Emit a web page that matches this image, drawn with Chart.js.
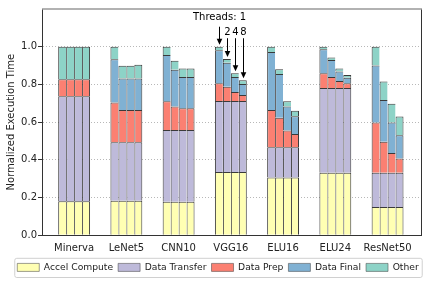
<!DOCTYPE html>
<html>
<head>
<meta charset="utf-8">
<script src="https://cdn.jsdelivr.net/npm/chart.js@4.4.0/dist/chart.umd.min.js"></script>
<style>
  html, body { margin: 0; padding: 0; background: #fff; }
</style>
</head>
<body>
<canvas id="chart" width="436" height="282"></canvas>
<script>
// Groups on the x axis and thread counts (one bar per thread count)
const models = ['Minerva', 'LeNet5', 'CNN10', 'VGG16', 'ELU16', 'ELU24', 'ResNet50'];
const threads = ['1', '2', '4', '8'];

// Segment sizes, per model, per thread count (1, 2, 4, 8)
const accelCompute = [
  [0.180, 0.180, 0.180, 0.180],
  [0.183, 0.183, 0.183, 0.183],
  [0.178, 0.178, 0.178, 0.178],
  [0.335, 0.335, 0.335, 0.335],
  [0.307, 0.307, 0.307, 0.307],
  [0.332, 0.332, 0.332, 0.332],
  [0.150, 0.150, 0.150, 0.150]
];
const dataTransfer = [
  [0.557, 0.557, 0.557, 0.557],
  [0.311, 0.311, 0.311, 0.311],
  [0.381, 0.381, 0.381, 0.381],
  [0.377, 0.377, 0.377, 0.377],
  [0.160, 0.160, 0.160, 0.160],
  [0.449, 0.449, 0.449, 0.449],
  [0.182, 0.182, 0.182, 0.182]
];
const dataPrep = [
  [0.090, 0.090, 0.090, 0.090],
  [0.210, 0.171, 0.171, 0.171],
  [0.152, 0.124, 0.115, 0.115],
  [0.094, 0.076, 0.048, 0.032],
  [0.198, 0.156, 0.089, 0.070],
  [0.078, 0.059, 0.037, 0.025],
  [0.266, 0.164, 0.105, 0.075]
];
const dataFinal = [
  [0.000, 0.000, 0.000, 0.000],
  [0.229, 0.167, 0.167, 0.167],
  [0.245, 0.195, 0.166, 0.166],
  [0.175, 0.127, 0.080, 0.058],
  [0.307, 0.232, 0.127, 0.094],
  [0.127, 0.089, 0.051, 0.030],
  [0.303, 0.222, 0.161, 0.124]
];
const other = [
  [0.173, 0.173, 0.173, 0.173],
  [0.067, 0.067, 0.067, 0.073],
  [0.044, 0.048, 0.045, 0.045],
  [0.019, 0.020, 0.019, 0.020],
  [0.028, 0.025, 0.028, 0.029],
  [0.014, 0.014, 0.015, 0.014],
  [0.099, 0.098, 0.100, 0.099]
];

const yTicks = [0, 0.2, 0.4, 0.6, 0.8, 1.0];

const parts = [
  { label: 'Accel Compute', values: accelCompute, color: '#ffffb3' },
  { label: 'Data Transfer', values: dataTransfer, color: '#bebada' },
  { label: 'Data Prep', values: dataPrep, color: '#fb8072' },
  { label: 'Data Final', values: dataFinal, color: '#80b1d3' },
  { label: 'Other', values: other, color: '#8dd3c7' }
];

const datasets = [];
threads.forEach((t, ti) => {
  const last = ti === threads.length - 1;
  parts.forEach(p => {
    datasets.push({
      label: p.label,
      stack: 'threads' + t,
      data: models.map((m, mi) => ({ x: mi, y: p.values[mi][ti] || null })),
      backgroundColor: p.color,
      borderColor: '#3a3a3a',
      // single edges between neighbouring bars / segments
      borderWidth: { top: 1, left: 1, right: last ? 1 : 0, bottom: 0 },
      borderSkipped: false,
      categoryPercentage: 0.61,
      barPercentage: 1
    });
  });
});

const font = 'DejaVu Sans';

// frame round the plot, threads annotation, box round the legend
const extras = {
  id: 'extras',
  afterDatasetsDraw(chart) {
    const { ctx, chartArea: a, scales: { y } } = chart;
    ctx.save();
    ctx.strokeStyle = '#333';
    ctx.lineWidth = 1;
    ctx.beginPath();
    ctx.moveTo(a.right + 0.5, a.top);
    ctx.lineTo(a.right + 0.5, a.bottom);
    ctx.stroke();
    ctx.strokeStyle = '#999';
    ctx.lineWidth = 1.5;
    ctx.beginPath();
    ctx.moveTo(a.left, a.top);
    ctx.lineTo(a.right + 1, a.top);
    ctx.stroke();

    // arrows to the VGG16 bars
    const g = models.indexOf('VGG16');
    ctx.fillStyle = '#000';
    ctx.strokeStyle = '#000';
    ctx.font = '10px "' + font + '"';
    ctx.textAlign = 'center';
    ctx.textBaseline = 'middle';
    threads.forEach((t, ti) => {
      const bar = chart.getDatasetMeta(ti * parts.length + parts.length - 1).data[g];
      const x = Math.round(bar.x) + 0.5;
      const tip = bar.y - 2;
      const from = ti === 0 ? y.getPixelForValue(1.106) : y.getPixelForValue(1.045);
      const ty = ti === 0 ? y.getPixelForValue(1.153) : y.getPixelForValue(1.076);
      ctx.fillText(ti === 0 ? 'Threads: ' + t : t, x, ty);
      ctx.lineWidth = 1;
      ctx.beginPath();
      ctx.moveTo(x, from);
      ctx.lineTo(x, tip - 5);
      ctx.stroke();
      ctx.beginPath();
      ctx.moveTo(x, tip);
      ctx.lineTo(x - 2.8, tip - 6);
      ctx.lineTo(x + 2.8, tip - 6);
      ctx.closePath();
      ctx.fill();
    });
    ctx.restore();
  },
  afterDraw(chart) {
    const boxes = chart.legend.legendHitBoxes;
    if (!boxes || !boxes.length) return;
    const l = Math.min(...boxes.map(b => b.left)) - 3;
    const r = Math.max(...boxes.map(b => b.left + b.width)) + 3;
    const t = Math.min(...boxes.map(b => b.top)) - 5;
    const b = Math.max(...boxes.map(b => b.top + b.height)) + 5;
    const ctx = chart.ctx;
    ctx.save();
    ctx.strokeStyle = '#d0d0d0';
    ctx.lineWidth = 1;
    ctx.beginPath();
    ctx.roundRect(l + 0.5, t + 0.5, r - l, b - t, 2);
    ctx.stroke();
    ctx.restore();
  }
};

new Chart(document.getElementById('chart'), {
  type: 'bar',
  data: { datasets: datasets },
  options: {
    responsive: false,
    animation: false,
    layout: { padding: { top: 9, right: 8, left: 8, bottom: 0 } },
    plugins: {
      tooltip: { enabled: false },
      legend: {
        position: 'bottom',
        labels: {
          filter: item => item.datasetIndex < parts.length,
          font: { family: font, size: 9.2 },
          color: '#222',
          boxWidth: 22,
          boxHeight: 8,
          padding: 5
        }
      }
    },
    scales: {
      x: {
        type: 'linear',
        offset: false,
        min: -0.615,
        max: 6.64,
        grid: { display: false, drawTicks: false },
        border: { color: '#333' },
        afterBuildTicks: s => { s.ticks = models.map((m, i) => ({ value: i })); },
        afterFit: s => { s.height = 22.5; },
        ticks: {
          padding: 7,
          font: { family: font, size: 10 },
          color: '#222',
          callback: v => models[v]
        }
      },
      y: {
        min: 0,
        max: 1.2,
        afterBuildTicks: s => { s.ticks = yTicks.map(v => ({ value: v })); },
        afterFit: s => { s.width = 34; },
        title: {
          display: true,
          text: 'Normalized Execution Time',
          font: { family: font, size: 10 },
          color: '#222',
          padding: { top: -3, bottom: 0 }
        },
        grid: {
          color: c => (c.tick && c.tick.value > 0.1) ? '#b8b8b8' : 'transparent',
          tickColor: '#333',
          tickLength: 4
        },
        border: { color: '#333', dash: [1, 2] },
        ticks: {
          padding: 1,
          font: { family: font, size: 10 },
          color: '#222',
          callback: v => v.toFixed(1)
        }
      },
      // empty strip on the right so the plot ends where the reference does
      yRight: {
        position: 'right',
        min: 0,
        max: 1,
        grid: { display: false, drawTicks: false },
        border: { display: false },
        ticks: { display: false },
        afterFit: s => { s.width = 7; }
      }
    }
  },
  plugins: [extras]
});
</script>
</body>
</html>
